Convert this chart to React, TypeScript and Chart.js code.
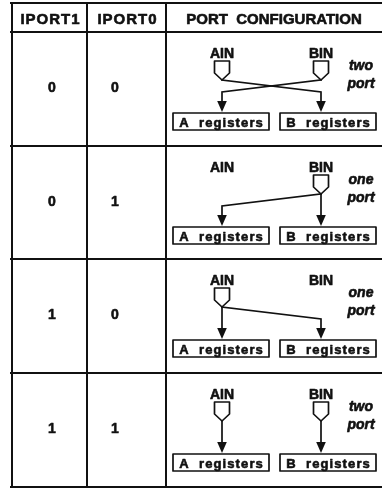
import React, { useEffect, useRef } from 'react';
import { Chart, registerables } from 'chart.js';

Chart.register(...registerables);

// ---------- data ----------
const headers = ['IPORT1', 'IPORT0', 'PORT  CONFIGURATION'];
const iport1 = ['0', '0', '1', '1'];
const iport0 = ['0', '1', '0', '1'];
const inputNames = ['AIN', 'BIN'];
const registerNames = ['A  registers', 'B  registers'];
const sourceOfA = ['BIN', 'BIN', 'AIN', 'AIN'];
const sourceOfB = ['AIN', 'BIN', 'AIN', 'BIN'];
const modeWord = ['two', 'one', 'one', 'two'];
const modeSuffix = ['port', 'port', 'port', 'port'];

// ---------- layout ----------
const W = 382;
const H = 488;
const colEdges = [12, 87, 166, 382];
const rowEdges = [3, 32, 146, 259, 373, 487];
const digitX = [52, 115];
const inputX = [222, 321];
const boxSpans = [
  [173, 269],
  [280, 376],
];
const modeX = 361;
const INK = '#111111';
const FONT = '"Liberation Sans", Arial, Helvetica, sans-serif';

type Pt = { x: number; y: number };

function buildDatasets() {
  const ds: any[] = [];
  const seg = (pts: Pt[], width: number) =>
    ds.push({
      data: pts,
      showLine: true,
      borderColor: INK,
      borderWidth: width,
      pointRadius: 0,
      pointHoverRadius: 0,
      tension: 0,
      fill: false,
      clip: false,
      borderCapStyle: 'square',
    });
  // table grid
  rowEdges.forEach((y) => seg([{ x: colEdges[0] - 1, y }, { x: W, y }], 2));
  colEdges.slice(0, 3).forEach((x) => seg([{ x, y: rowEdges[0] }, { x, y: rowEdges[rowEdges.length - 1] }], 2));
  // connectors
  for (let r = 0; r < iport1.length; r++) {
    const top = rowEdges[r + 1];
    [sourceOfA[r], sourceOfB[r]].forEach((src, j) => {
      const si = inputNames.indexOf(src);
      const dx = inputX[j];
      if (si === j) {
        seg([{ x: dx, y: top + 48 }, { x: dx, y: top + 71 }], 1.7);
      } else {
        seg(
          [
            { x: inputX[si], y: top + 48 },
            { x: dx, y: top + 60 },
            { x: dx, y: top + 71 },
          ],
          1.7
        );
      }
    });
  }
  return ds;
}

function boldText(ctx: CanvasRenderingContext2D, t: string, x: number, y: number) {
  ctx.fillText(t, x, y);
  ctx.lineWidth = 0.6;
  ctx.strokeText(t, x, y);
}

const tablePlugin = {
  id: 'tableText',
  afterDatasetsDraw(chart: any) {
    const ctx: CanvasRenderingContext2D = chart.ctx;
    const xs = chart.scales.x;
    const ys = chart.scales.y;
    const px = (v: number) => xs.getPixelForValue(v);
    const py = (v: number) => ys.getPixelForValue(v);
    ctx.save();
    ctx.fillStyle = INK;
    ctx.strokeStyle = INK;
    ctx.lineJoin = 'round';
    ctx.textAlign = 'center';
    ctx.textBaseline = 'alphabetic';

    // headers
    headers.forEach((h, i) => {
      ctx.font = `bold 15px ${FONT}`;
      (ctx as any).letterSpacing = i < 2 ? '1px' : '0px';
      const cx = (colEdges[i] + colEdges[i + 1]) / 2 + (i < 2 ? 1 : 0);
      boldText(ctx, h, px(cx), py(24));
    });
    (ctx as any).letterSpacing = '0px';

    for (let r = 0; r < iport1.length; r++) {
      const top = rowEdges[r + 1];
      // digits
      ctx.font = `bold 14px ${FONT}`;
      boldText(ctx, iport1[r], px(digitX[0]), py(top + 60));
      boldText(ctx, iport0[r], px(digitX[1]), py(top + 60));

      // input labels
      inputNames.forEach((n, i) => {
        ctx.font = `bold 14px ${FONT}`;
        boldText(ctx, n, px(inputX[i]), py(top + 26));
      });

      // input symbols (only inputs in use)
      const used = new Set([sourceOfA[r], sourceOfB[r]]);
      inputNames.forEach((n, i) => {
        if (!used.has(n)) return;
        const cx = inputX[i];
        ctx.beginPath();
        ctx.moveTo(px(cx - 7.5), py(top + 29));
        ctx.lineTo(px(cx + 7.5), py(top + 29));
        ctx.lineTo(px(cx + 7.5), py(top + 41));
        ctx.lineTo(px(cx), py(top + 48));
        ctx.lineTo(px(cx - 7.5), py(top + 41));
        ctx.closePath();
        ctx.fillStyle = '#fff';
        ctx.fill();
        ctx.lineWidth = 1.7;
        ctx.stroke();
        ctx.fillStyle = INK;
      });

      // arrow heads
      inputX.forEach((ax) => {
        ctx.beginPath();
        ctx.moveTo(px(ax - 4.8), py(top + 69));
        ctx.lineTo(px(ax + 4.8), py(top + 69));
        ctx.lineTo(px(ax), py(top + 80));
        ctx.closePath();
        ctx.fill();
      });

      // register boxes
      boxSpans.forEach(([x0, x1], i) => {
        ctx.lineWidth = 1.7;
        ctx.strokeRect(px(x0), py(top + 81), px(x1) - px(x0), py(top + 98) - py(top + 81));
        ctx.font = `bold 13px ${FONT}`;
        (ctx as any).letterSpacing = '1.1px';
        boldText(ctx, registerNames[i], px((x0 + x1) / 2 + 0.5), py(top + 94.5));
        (ctx as any).letterSpacing = '0px';
      });

      // mode words
      ctx.font = `italic bold 14px ${FONT}`;
      boldText(ctx, modeWord[r], px(modeX), py(top + 38));
      boldText(ctx, modeSuffix[r], px(modeX), py(top + 56));
    }
    ctx.restore();
  },
};

export default function App() {
  const ref = useRef<HTMLCanvasElement | null>(null);
  useEffect(() => {
    document.body.style.margin = '0';
    if (!ref.current) return;
    const chart = new Chart(ref.current, {
      type: 'scatter',
      data: { datasets: buildDatasets() },
      options: {
        animation: false,
        responsive: false,
        devicePixelRatio: 1,
        layout: { padding: 0 },
        events: [],
        plugins: { legend: { display: false }, tooltip: { enabled: false } },
        scales: {
          x: { type: 'linear', min: 0, max: W, display: false },
          y: { type: 'linear', min: 0, max: H, reverse: true, display: false },
        },
      },
      plugins: [tablePlugin],
    } as any);
    return () => chart.destroy();
  }, []);
  return (
    <div style={{ position: 'absolute', left: 0, top: 0, width: W, height: H, background: '#fff' }}>
      <canvas ref={ref} width={W} height={H} style={{ display: 'block' }} />
    </div>
  );
}
